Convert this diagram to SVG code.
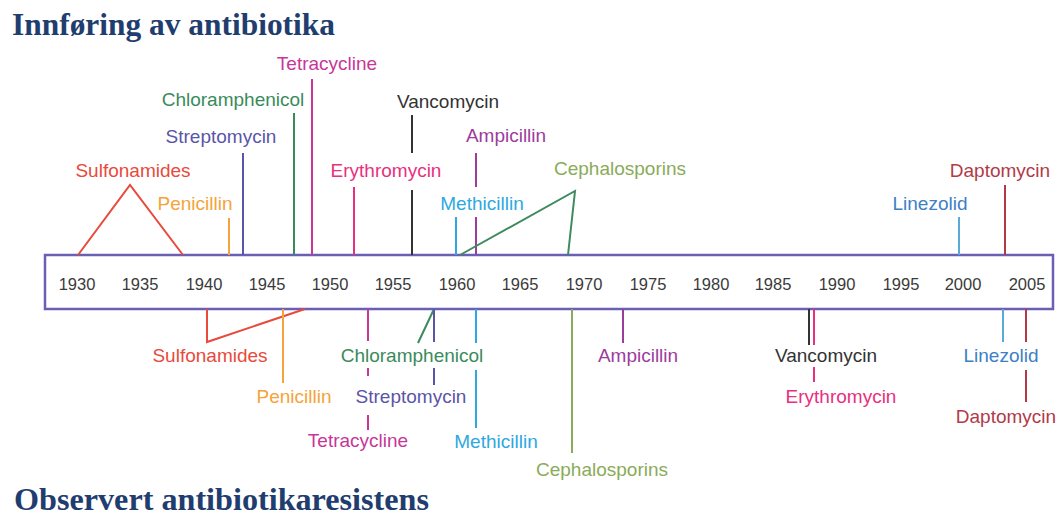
<svg xmlns="http://www.w3.org/2000/svg" width="1060" height="518" viewBox="0 0 1060 518">
<style>
.t{font-family:"Liberation Serif","Times New Roman",serif;font-weight:bold;font-size:31px;fill:#1f3d6e}
.l{font-family:"Liberation Sans",Arial,sans-serif;font-size:19px;text-anchor:middle}
.y{font-family:"Liberation Sans",Arial,sans-serif;font-size:16.5px;fill:#3a3a3a;text-anchor:middle}
text.red{fill:#e84a3c}
text.org{fill:#f5a33a}
text.str{fill:#5a55a8}
text.chl{fill:#3a8a5c}
text.tet{fill:#c8369a}
text.ery{fill:#e8307f}
text.van{fill:#333333}
text.amp{fill:#9c3c9c}
text.met{fill:#2ea8e0}
text.cep{fill:#8aab5a}
text.lin{fill:#3d80c4}
text.dap{fill:#b23a48}
.c{fill:none;stroke-width:2}
.c.red{stroke:#e84a3c}
.c.org{stroke:#f5a33a}
.c.str{stroke:#5a55a8}
.c.chl{stroke:#3a8a5c}
.c.tet{stroke:#c8369a}
.c.ery{stroke:#e8307f}
.c.van{stroke:#333333}
.c.amp{stroke:#9c3c9c}
.c.met{stroke:#2ea8e0}
.c.cep{stroke:#8aab5a}
.c.lin{stroke:#5aaad8}
.c.dap{stroke:#b23a48}
.c.cepg{stroke:#3f8a5f}
</style>
<rect width="1060" height="518" fill="#ffffff"/>
<g id="title-top"><text class="t" x="12" y="35" textLength="323" lengthAdjust="spacingAndGlyphs">Innføring av antibiotika</text></g>
<g id="title-bottom"><text class="t" x="14" y="510" textLength="415" lengthAdjust="spacingAndGlyphs">Observert antibiotikaresistens</text></g>

<g id="timeline">
<rect x="45" y="255" width="1008" height="54" fill="#ffffff" stroke="#6a5fb5" stroke-width="2.5"/>
<text class="y" x="77" y="290">1930</text>
<text class="y" x="140" y="290">1935</text>
<text class="y" x="204" y="290">1940</text>
<text class="y" x="267" y="290">1945</text>
<text class="y" x="330" y="290">1950</text>
<text class="y" x="393" y="290">1955</text>
<text class="y" x="457" y="290">1960</text>
<text class="y" x="520" y="290">1965</text>
<text class="y" x="584" y="290">1970</text>
<text class="y" x="648" y="290">1975</text>
<text class="y" x="711" y="290">1980</text>
<text class="y" x="773" y="290">1985</text>
<text class="y" x="837" y="290">1990</text>
<text class="y" x="901" y="290">1995</text>
<text class="y" x="963" y="290">2000</text>
<text class="y" x="1027" y="290">2005</text>
</g>

<g id="connectors">
<!-- introduction (top) -->
<polyline class="c red" points="78,255 130,185 183,255"/>
<line class="c org" x1="229" y1="218" x2="229" y2="255"/>
<line class="c str" x1="243" y1="153" x2="243" y2="255"/>
<line class="c chl" x1="294" y1="113" x2="294" y2="255"/>
<line class="c tet" x1="312" y1="79" x2="312" y2="255"/>
<line class="c ery" x1="354" y1="187" x2="354" y2="255"/>
<line class="c van" x1="412" y1="115" x2="412" y2="153"/>
<line class="c van" x1="412" y1="190" x2="412" y2="255"/>
<line class="c amp" x1="476" y1="153" x2="476" y2="187"/>
<line class="c amp" x1="476" y1="217" x2="476" y2="255"/>
<line class="c met" x1="456" y1="217" x2="456" y2="255"/>
<polyline class="c cepg" points="460,255 575,191 568,255"/>
<line class="c lin" x1="959" y1="217" x2="959" y2="255"/>
<line class="c dap" x1="1005" y1="185" x2="1005" y2="255"/>
<!-- resistance (bottom) -->
<polyline class="c red" points="207,309 207,342 305,309"/>
<line class="c org" x1="283" y1="309" x2="283" y2="383"/>
<line class="c tet" x1="368" y1="309" x2="368" y2="341"/>
<line class="c tet" x1="368" y1="368" x2="368" y2="376"/>
<line class="c tet" x1="368" y1="415" x2="368" y2="430"/>
<line class="c chl" x1="418" y1="343" x2="434" y2="309"/>
<line class="c str" x1="434" y1="309" x2="434" y2="342"/>
<line class="c str" x1="434" y1="368" x2="434" y2="385"/>
<line class="c met" x1="476" y1="309" x2="476" y2="343"/>
<line class="c met" x1="476" y1="370" x2="476" y2="428"/>
<line class="c cep" x1="572" y1="309" x2="572" y2="453"/>
<line class="c amp" x1="623" y1="309" x2="623" y2="343"/>
<line class="c van" x1="809" y1="309" x2="809" y2="345"/>
<line class="c ery" x1="814" y1="309" x2="814" y2="345"/>
<line class="c ery" x1="814" y1="367" x2="814" y2="382"/>
<line class="c lin" x1="1003" y1="309" x2="1003" y2="342"/>
<line class="c dap" x1="1026" y1="309" x2="1026" y2="342"/>
<line class="c dap" x1="1026" y1="370" x2="1026" y2="402"/>
</g>

<g id="intro-sulfonamides"><text class="l red" x="133" y="177">Sulfonamides</text></g>
<g id="intro-penicillin"><text class="l org" x="195" y="210">Penicillin</text></g>
<g id="intro-streptomycin"><text class="l str" x="221" y="143">Streptomycin</text></g>
<g id="intro-chloramphenicol"><text class="l chl" x="233" y="106">Chloramphenicol</text></g>
<g id="intro-tetracycline"><text class="l tet" x="327" y="70">Tetracycline</text></g>
<g id="intro-erythromycin"><text class="l ery" x="386" y="177">Erythromycin</text></g>
<g id="intro-vancomycin"><text class="l van" x="448" y="108">Vancomycin</text></g>
<g id="intro-ampicillin"><text class="l amp" x="506" y="142">Ampicillin</text></g>
<g id="intro-methicillin"><text class="l met" x="482" y="210">Methicillin</text></g>
<g id="intro-cephalosporins"><text class="l cep" x="620" y="175">Cephalosporins</text></g>
<g id="intro-linezolid"><text class="l lin" x="930" y="210">Linezolid</text></g>
<g id="intro-daptomycin"><text class="l dap" x="1000" y="177">Daptomycin</text></g>

<g id="res-sulfonamides"><text class="l red" x="210" y="362">Sulfonamides</text></g>
<g id="res-penicillin"><text class="l org" x="294" y="403">Penicillin</text></g>
<g id="res-chloramphenicol"><text class="l chl" x="412" y="362">Chloramphenicol</text></g>
<g id="res-streptomycin"><text class="l str" x="411" y="403">Streptomycin</text></g>
<g id="res-tetracycline"><text class="l tet" x="358" y="447">Tetracycline</text></g>
<g id="res-methicillin"><text class="l met" x="496" y="448">Methicillin</text></g>
<g id="res-cephalosporins"><text class="l cep" x="602" y="476">Cephalosporins</text></g>
<g id="res-ampicillin"><text class="l amp" x="638" y="362">Ampicillin</text></g>
<g id="res-vancomycin"><text class="l van" x="826" y="362">Vancomycin</text></g>
<g id="res-erythromycin"><text class="l ery" x="841" y="403">Erythromycin</text></g>
<g id="res-linezolid"><text class="l lin" x="1001" y="362">Linezolid</text></g>
<g id="res-daptomycin"><text class="l dap" x="1006" y="423">Daptomycin</text></g>
</svg>
